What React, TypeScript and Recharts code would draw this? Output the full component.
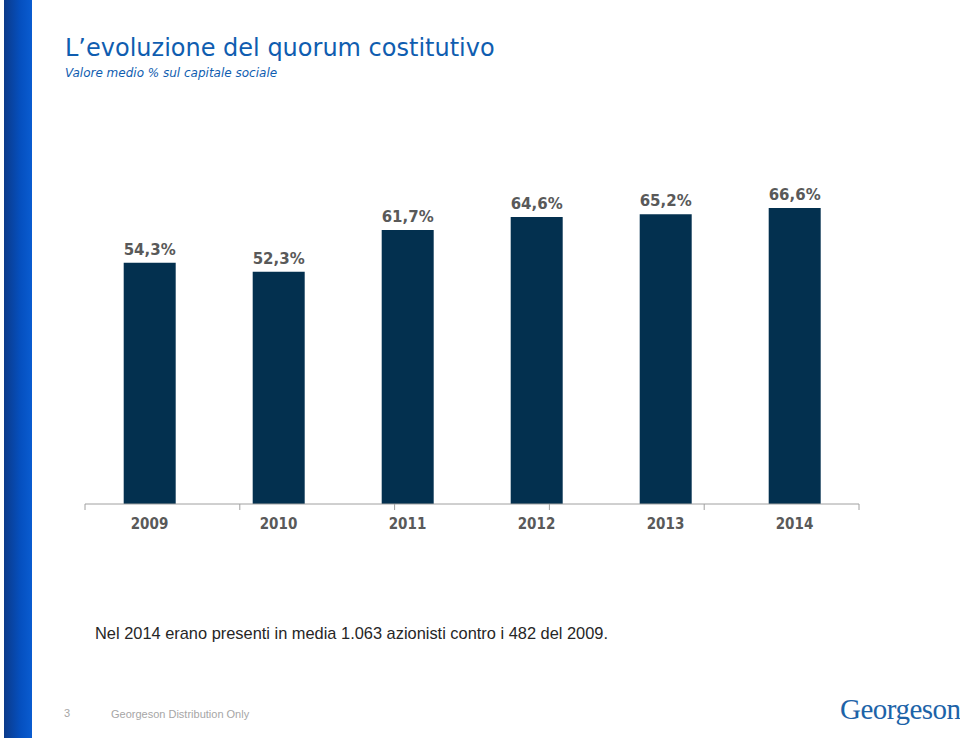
import React from "react";
import { BarChart, Bar, XAxis, YAxis, LabelList } from "recharts";

const years = ["2009", "2010", "2011", "2012", "2013", "2014"];
const quorum = [54.3, 52.3, 61.7, 64.6, 65.2, 66.6];
const boundaryTicks = [0, 1, 2, 3, 4, 5, 6];

const data = years.map((y, i) => ({ year: y, value: quorum[i] }));

const fmt = (v: any) => `${Number(v).toFixed(1).replace(".", ",")}%`;

export default function App() {
  return (
    <div
      style={{
        position: "absolute",
        left: 0,
        top: 0,
        width: 960,
        height: 740,
        background: "#ffffff",
        overflow: "hidden",
      }}
    >
      <div
        style={{
          position: "absolute",
          left: 4,
          top: 0,
          width: 28,
          height: 738,
          background: "linear-gradient(to right, #0b3a8a 0%, #0550c0 60%, #0a5cd0 100%)",
        }}
      />
      <div
        style={{
          position: "absolute",
          left: 65,
          top: 34,
          fontFamily: "'DejaVu Sans', Verdana, sans-serif",
          fontSize: 24,
          color: "#0f5db0",
          whiteSpace: "nowrap",
        }}
      >
        L’evoluzione del quorum costitutivo
      </div>
      <div
        style={{
          position: "absolute",
          left: 65,
          top: 66,
          fontFamily: "'DejaVu Sans', Verdana, sans-serif",
          fontSize: 12,
          fontStyle: "italic",
          color: "#0f5db0",
          whiteSpace: "nowrap",
        }}
      >
        Valore medio % sul capitale sociale
      </div>

      <div style={{ position: "absolute", left: 84, top: 160 }}>
        <BarChart
          width={776}
          height={382}
          data={data}
          margin={{ top: 33, right: 1, left: 1, bottom: 0 }}
          barCategoryGap="30%"
        >
          <YAxis hide domain={[0, 70]} />
          <XAxis
            xAxisId="a"
            type="number"
            domain={[0, 6]}
            allowDataOverflow
            ticks={boundaryTicks}
            interval={0}
            tick={() => <g />}
            height={8}
            tickSize={6}
            axisLine={{ stroke: "#a0a0a0" }}
            tickLine={{ stroke: "#a0a0a0" }}
          />
          <XAxis
            xAxisId="b"
            dataKey="year"
            axisLine={false}
            tickLine={false}
            height={30}
            tickMargin={0}
            tick={{
              fill: "#595959",
              fontSize: 15,
              fontWeight: "bold",
              fontFamily: "'DejaVu Sans Condensed', 'DejaVu Sans', sans-serif",
            }}
          />
          <Bar dataKey="value" xAxisId="b" fill="#03304f" isAnimationActive={false}>
            <LabelList
              dataKey="value"
              position="top"
              offset={8}
              formatter={fmt}
              style={{
                fill: "#595959",
                fontSize: 15,
                fontWeight: "bold",
                fontFamily: "'DejaVu Sans', Verdana, sans-serif",
              }}
            />
          </Bar>
        </BarChart>
      </div>

      <div
        style={{
          position: "absolute",
          left: 95,
          top: 624,
          fontFamily: "'Liberation Sans', Arial, sans-serif",
          fontSize: 16.4,
          color: "#262626",
          whiteSpace: "nowrap",
        }}
      >
        Nel 2014 erano presenti in media 1.063 azionisti contro i 482 del 2009.
      </div>

      <div
        style={{
          position: "absolute",
          left: 64,
          top: 707,
          fontFamily: "'Liberation Sans', Arial, sans-serif",
          fontSize: 11,
          color: "#a6a6a6",
        }}
      >
        3
      </div>
      <div
        style={{
          position: "absolute",
          left: 111,
          top: 708,
          fontFamily: "'Liberation Sans', Arial, sans-serif",
          fontSize: 11,
          color: "#a6a6a6",
          whiteSpace: "nowrap",
        }}
      >
        Georgeson Distribution Only
      </div>
      <div
        style={{
          position: "absolute",
          left: 840,
          top: 693,
          fontFamily: "'Liberation Serif', 'Times New Roman', serif",
          fontSize: 29,
          color: "#1d63a8",
          whiteSpace: "nowrap",
          letterSpacing: -0.5,
        }}
      >
        Georgeson
      </div>
    </div>
  );
}
